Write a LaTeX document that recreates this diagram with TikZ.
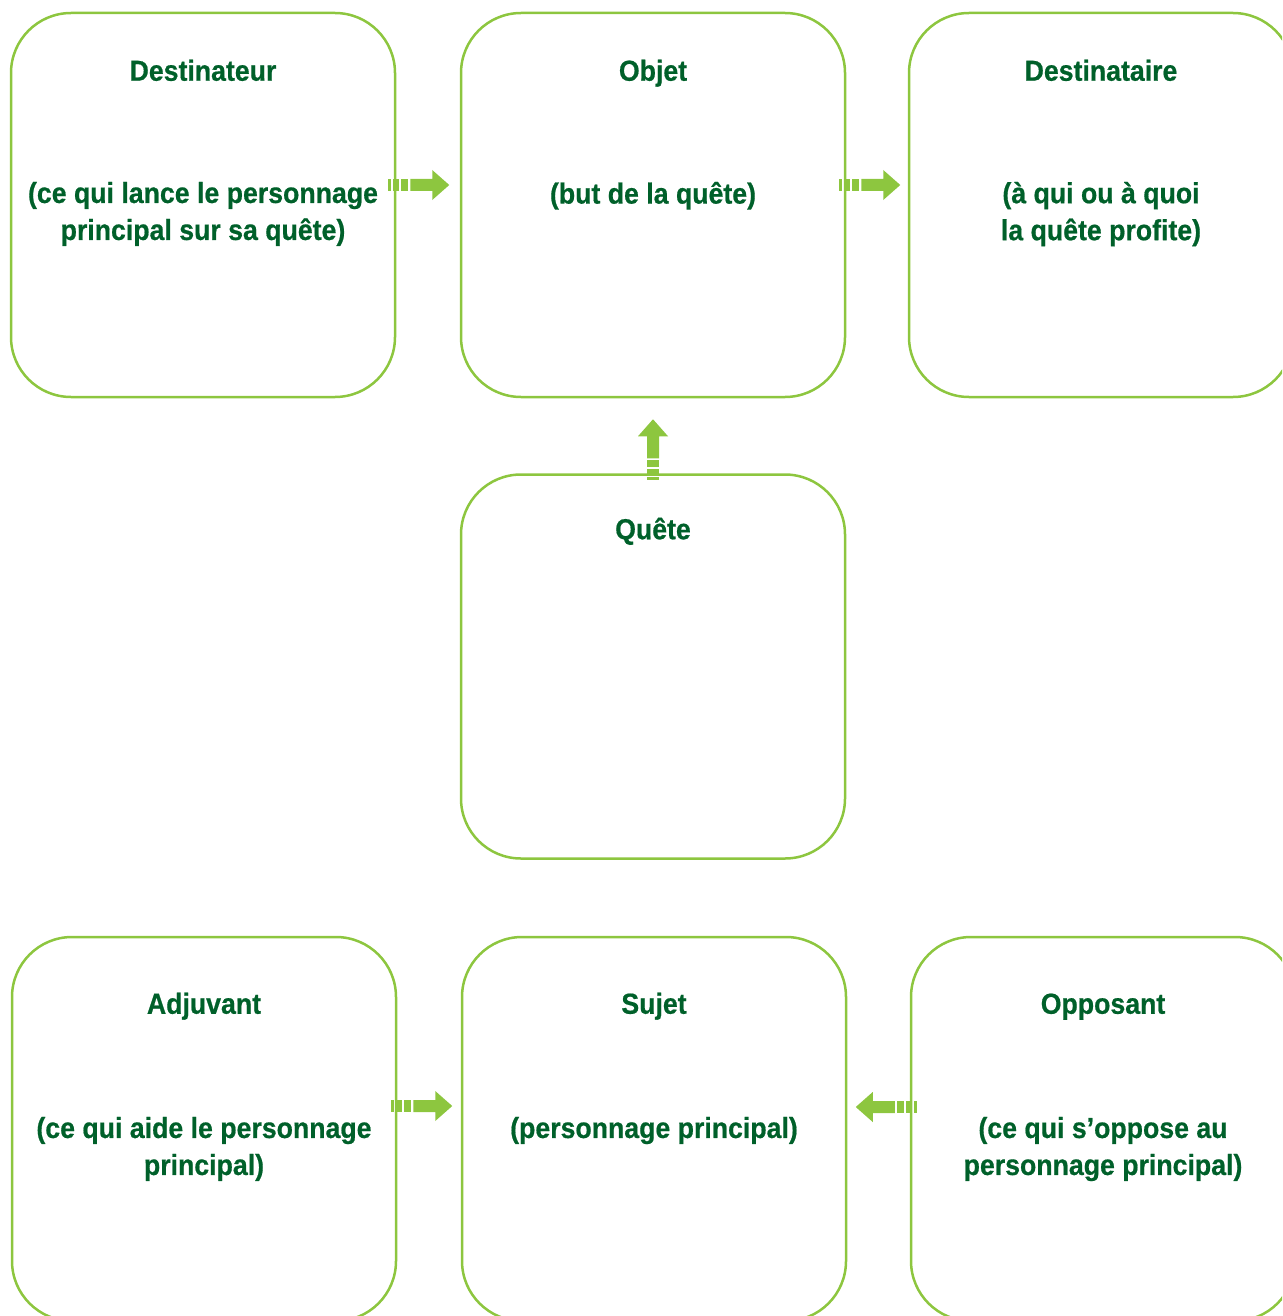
\documentclass[tikz,border=0pt]{standalone}
\usepackage{fontspec}
\setmainfont{Liberation Sans}[FakeStretch=0.92,BoldFeatures={FakeBold=0.6}]
\usetikzlibrary{calc}
\definecolor{lgreen}{RGB}{141,198,63}
\definecolor{dgreen}{RGB}{0,96,42}
\tikzset{
  box/.style={draw=lgreen,line width=2.5pt,rounded corners=60pt,minimum width=384pt,minimum height=384pt,inner sep=0pt},
  ttl/.style={text=dgreen,font=\fontsize{29}{37}\selectfont\bfseries,inner sep=0pt,anchor=base},
  sub/.style={text=dgreen,font=\fontsize{29}{37}\selectfont\bfseries,inner sep=0pt,anchor=north,align=center},
  pics/stripearrow/.style={code={
    \fill[lgreen] (0,-6) rectangle (3,6);
    \fill[lgreen] (5,-6) rectangle (11,6);
    \fill[lgreen] (13,-6) rectangle (20,6);
    \fill[lgreen] (22,-6) -- (44,-6) -- (44,-15) -- (61,0) -- (44,15) -- (44,6) -- (22,6) -- cycle;
  }}
}
\begin{document}
\begin{tikzpicture}[x=1pt,y=1pt]
\useasboundingbox (0,0) rectangle (1282,-1316);
\clip (0,0) rectangle (1282,-1316);
% boxes
\node[box] (dest) at (203,-205) {};
\node[box] (obj) at (653,-205) {};
\node[box] (destre) at (1101,-205) {};
\node[box] (quete) at (653,-666.5) {};
\node[box] (adj) at (204,-1129) {};
\node[box] (suj) at (654,-1129) {};
\node[box] (opp) at (1103,-1129) {};
% titles
\node[ttl] (t1) at ($(dest.north)+(0,-69)$) {Destinateur};
\node[ttl] (t2) at ($(obj.north)+(0,-69)$) {Objet};
\node[ttl] (t3) at ($(destre.north)+(0,-69)$) {Destinataire};
\node[ttl] (t4) at ($(quete.north)+(0,-66)$) {Quête};
\node[ttl] (t5) at ($(adj.north)+(0,-78)$) {Adjuvant};
\node[ttl] (t6) at ($(suj.north)+(0,-78)$) {Sujet};
\node[ttl] (t7) at ($(opp.north)+(0,-78)$) {Opposant};
% subtitles
\node[sub] (s1) at ($(dest.north)+(0,-170)$) {(ce qui lance le personnage\\principal sur sa quête)};
\node[sub] (s2) at ($(obj.north)+(0,-170)$) {(but de la quête)};
\node[sub] (s3) at ($(destre.north)+(0,-170)$) {(à qui ou à quoi\\la quête profite)};
\node[sub] (s5) at ($(adj.north)+(0,-181)$) {(ce qui aide le personnage\\principal)};
\node[sub] (s6) at ($(suj.north)+(0,-181)$) {(personnage principal)};
\node[sub] (s7) at ($(opp.north)+(0,-181)$) {(ce qui s’oppose au\\personnage principal)};
% arrows
\path (dest.east) ++(-8,20) pic {stripearrow};
\path (obj.east) ++(-7,20) pic {stripearrow};
\path (quete.north) ++(0,-7) pic[rotate=90] {stripearrow};
\path (adj.east) ++(-6,23) pic {stripearrow};
\path (opp.west) ++(7,22) pic[rotate=180] {stripearrow};
\end{tikzpicture}
\end{document}
